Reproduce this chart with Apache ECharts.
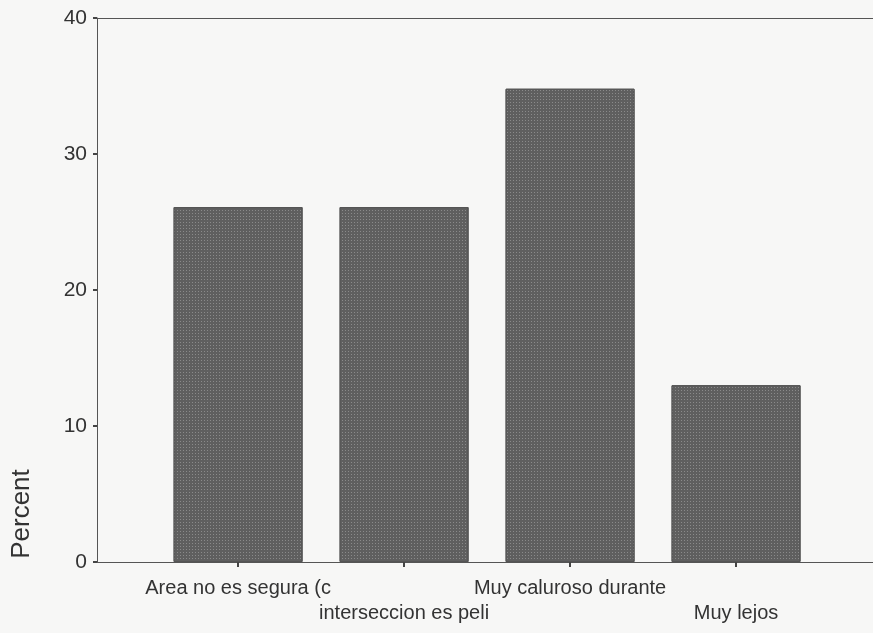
<!DOCTYPE html>
<html>
<head>
<meta charset="utf-8">
<script src="https://cdn.jsdelivr.net/npm/echarts@6/dist/echarts.min.js"></script>
<style>
html,body{margin:0;padding:0;background:#f7f7f6;}
#c{width:873px;height:633px;}
</style>
</head>
<body>
<div id="c"></div>
<script>
const categories = ['Area no es segura (c', 'interseccion es peli', 'Muy caluroso durante', 'Muy lejos'];
const percents = [26.1, 26.1, 34.8, 13.0];
const yTicks = [0, 10, 20, 30, 40];
const positions = categories.map((c, i) => i);
const upperRow = positions.filter(i => i % 2 === 0);
const lowerRow = positions.filter(i => i % 2 === 1);

const chart = echarts.init(document.getElementById('c'));
const font = '"Liberation Sans", Arial, sans-serif';
const xMin = -0.85, xMax = 3.825;
const labelBase = {color: '#333', fontFamily: font, fontSize: 20,
  showMinLabel: true, showMaxLabel: true, hideOverlap: false,
  formatter: v => categories[Math.round(v)]};
chart.setOption({
  backgroundColor: '#f7f7f6',
  animation: false,
  grid: {left: 97, top: 18, bottom: 71, right: 0},
  xAxis: [{
    type: 'value', min: xMin, max: xMax,
    axisLine: {show: true, onZero: false, lineStyle: {color: '#555', width: 1}},
    axisTick: {show: true, customValues: positions.slice(), length: 5, lineStyle: {color: '#444', width: 2}},
    splitLine: {show: false},
    axisLabel: Object.assign({customValues: upperRow, margin: 16}, labelBase)
  }, {
    type: 'value', position: 'bottom', min: xMin, max: xMax,
    axisLine: {show: false, onZero: false},
    axisTick: {show: false}, splitLine: {show: false},
    axisLabel: Object.assign({customValues: lowerRow, margin: 41}, labelBase)
  }, {
    type: 'value', position: 'top', min: xMin, max: xMax,
    axisLine: {show: true, onZero: false, lineStyle: {color: '#555', width: 1}},
    axisTick: {show: false}, axisLabel: {show: false}, splitLine: {show: false}
  }],
  yAxis: {
    type: 'value', min: 0, max: 40, interval: 10,
    axisLine: {show: true, onZero: false, lineStyle: {color: '#555', width: 1}},
    axisTick: {show: true, length: 4, lineStyle: {color: '#444', width: 2}},
    splitLine: {show: false},
    axisLabel: {color: '#333', fontFamily: font, fontSize: 21, margin: 10}
  },
  graphic: [{
    type: 'text', x: 22, y: 514, rotation: Math.PI / 2,
    style: {text: 'Percent', font: '26px ' + font, fill: '#333', textAlign: 'center', textVerticalAlign: 'middle'}
  }],
  series: [{
    type: 'bar', xAxisIndex: 0, barWidth: 129,
    data: positions.map((p, i) => [p, percents[i]]),
    itemStyle: {
      color: '#5f5f5f', borderColor: '#555', borderWidth: 1,
      decal: {symbol: 'rect', symbolSize: 1, dashArrayX: [[1, 2]], dashArrayY: [1, 2],
        color: 'rgba(190,190,190,0.45)', rotation: 0}
    }
  }]
});
</script>
</body>
</html>
